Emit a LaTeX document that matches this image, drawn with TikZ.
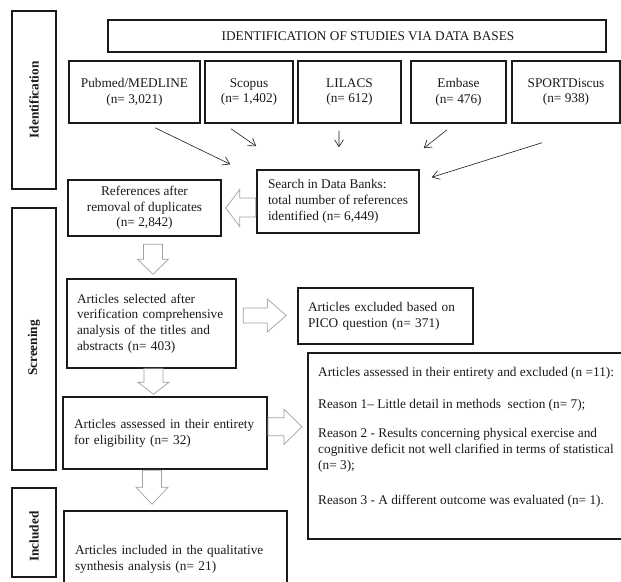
\documentclass[tikz,border=0pt]{standalone}
\usepackage{fontspec}
\setmainfont{Liberation Serif}
\usetikzlibrary{arrows.meta,calc}
\definecolor{linec}{HTML}{1A1A1A}
\definecolor{txtc}{HTML}{1A1A1A}
\definecolor{hollowc}{HTML}{A0A0A0}
\begin{document}
\begin{tikzpicture}[x=1bp,y=-1bp,
  font=\fontsize{13.3bp}{15.7bp}\selectfont,
  every node/.style={text=txtc},
  box/.style={draw=linec, line width=1.5bp, inner sep=0pt},
  sidebox/.style={box, minimum width=44bp},
  dbbox/.style={box, minimum height=62bp, align=center},
  cbox/.style={box, align=center},
  lbox/.style={box, align=left},
  txt/.style={inner sep=0pt, align=left},
  thinarrow/.style={draw=linec, line width=0.6bp, -{Straight Barb[length=7bp,width=9bp]}},
  hollow/.style={draw=hollowc, line width=0.7bp, line join=miter}
]
\fill[white] (0,0) rectangle (621,582);
\useasboundingbox (0,0) rectangle (621,582);
\clip (0,0) rectangle (621,582);

% side labels
\node[sidebox, minimum height=178bp] (sideid) at (34,100) {\rotatebox{90}{\bfseries Identification}};
\node[sidebox, minimum height=262bp] (sidescr) at (34,339) {\rotatebox{90}{\bfseries Screening\hspace*{18bp}}};
\node[sidebox, minimum height=89bp] (sideinc) at (34,532.5) {\rotatebox{90}{\bfseries Included\hspace*{8bp}}};

% title
\node[box, minimum width=498bp, minimum height=32bp] (title) at (357,36) {\hspace*{22bp}IDENTIFICATION OF STUDIES VIA DATA BASES};

% databases
\node[dbbox, minimum width=131bp] (pubmed) at (134.5,92) {Pubmed/MEDLINE\\(n= 3,021)};
\node[dbbox, minimum width=88bp] (scopus) at (249,92) {Scopus\\(n= 1,402)};
\node[dbbox, minimum width=103bp] (lilacs) at (349.5,92) {LILACS\\(n= 612)};
\node[dbbox, minimum width=95bp] (embase) at (458.5,92) {Embase\\(n= 476)};
\node[dbbox, minimum width=108bp] (sport) at (566,92) {SPORTDiscus\\(n= 938)};

% search
\node[lbox, minimum width=162bp, minimum height=63bp] (search) at (338,201.5)
  {Search in Data Banks:\\total number of references\\identified (n= 6,449)};

% references
\node[cbox, minimum width=153bp, minimum height=56bp] (refs) at (144.5,208)
  {References after\\removal of duplicates\\(n= 2,842)};

% selected
\node[lbox, minimum width=169bp, minimum height=89bp, text width=149bp] (sel) at (151.5,323.5)
  {Articles selected after\\verification comprehensive\\analysis of the titles and\\abstracts (n= 403)};

% pico
\node[lbox, minimum width=175bp, minimum height=56bp, text width=155bp] (pico) at (385.5,316)
  {Articles excluded based on\\PICO question (n= 371)};

% reasons
\node[box, anchor=north west, minimum width=330bp, minimum height=186bp] (reasons) at (307,352) {};
\node[txt, anchor=north west] (reasonstxt) at ([xshift=11bp,yshift=-15bp]reasons.north west)
  {Articles assessed in their entirety and excluded (n =11):\\[16bp]
   Reason 1-- Little detail in methods~ section (n= 7);\\[14bp]
   Reason 2 - Results concerning physical exercise and\\
   cognitive deficit not well clarified in terms of statistical\\
   (n= 3);\\[20bp]
   Reason 3 - A different outcome was evaluated (n= 1).};

% assessed
\node[lbox, minimum width=204bp, minimum height=72bp, text width=182bp] (assessed) at (165,433)
  {Articles assessed in their entirety\\for eligibility (n= 32)};

% included
\node[lbox, minimum width=223bp, minimum height=97bp, text width=201bp] (included) at (175.5,559.5)
  {Articles included in the qualitative\\synthesis analysis (n= 21)};

% thin arrows from databases
\coordinate (pmend) at ([xshift=-26bp,yshift=5bp]search.north west);
\coordinate (scend) at ([yshift=23bp]search.north west);
\coordinate (liend) at ([xshift=1bp,yshift=22bp]search.north);
\coordinate (emend) at ([xshift=4bp,yshift=21bp]search.north east);
\coordinate (spend) at ([xshift=12bp,yshift=-8bp]search.north east);
\draw[thinarrow] ([xshift=20.5bp,yshift=-4bp]pubmed.south) -- (pmend);
\draw[thinarrow] ([xshift=-18bp,yshift=-5bp]scopus.south) -- (scend);
\draw[thinarrow] ([xshift=-10.5bp,yshift=-7bp]lilacs.south) -- (liend);
\draw[thinarrow] ([xshift=-11.5bp,yshift=-6bp]embase.south) -- (emend);
\draw[thinarrow] ([xshift=-24bp,yshift=-19bp]sport.south) -- (spend);

% hollow block arrows
% search -> refs (left)
\draw[hollow] ([xshift=4bp]refs.east) -- ++(14,-18.5) -- ++(0,8.5) -- ++(16,0) -- ++(0,19) -- ++(-16,0) -- ++(0,9.5) -- cycle;
% refs -> sel (down)
\draw[hollow] ([xshift=1.5bp,yshift=4bp]sel.north) -- ++(-15.5,-15) -- ++(6,0) -- ++(0,-15) -- ++(19,0) -- ++(0,15) -- ++(6,0) -- cycle;
% sel -> pico (right)
\draw[hollow] ([xshift=-11bp,yshift=0.5bp]pico.west) -- ++(-19,-16.5) -- ++(0,9) -- ++(-24,0) -- ++(0,15) -- ++(24,0) -- ++(0,9) -- cycle;
% sel -> assessed (down)
\draw[hollow] ([xshift=-11.5bp,yshift=2bp]assessed.north) -- ++(-15.5,-12) -- ++(6,0) -- ++(0,-14) -- ++(19,0) -- ++(0,14) -- ++(6,0) -- cycle;
% assessed -> reasons (right)
\draw[hollow] ([xshift=-5bp,yshift=19bp]reasons.west) -- ++(-18,-17.5) -- ++(0,8.5) -- ++(-16,0) -- ++(0,18) -- ++(16,0) -- ++(0,8.5) -- cycle;
% assessed -> included (down)
\draw[hollow] ([xshift=-23.5bp,yshift=6bp]included.north) -- ++(-16,-17) -- ++(6.5,0) -- ++(0,-17) -- ++(19,0) -- ++(0,17) -- ++(6.5,0) -- cycle;
\end{tikzpicture}
\end{document}
